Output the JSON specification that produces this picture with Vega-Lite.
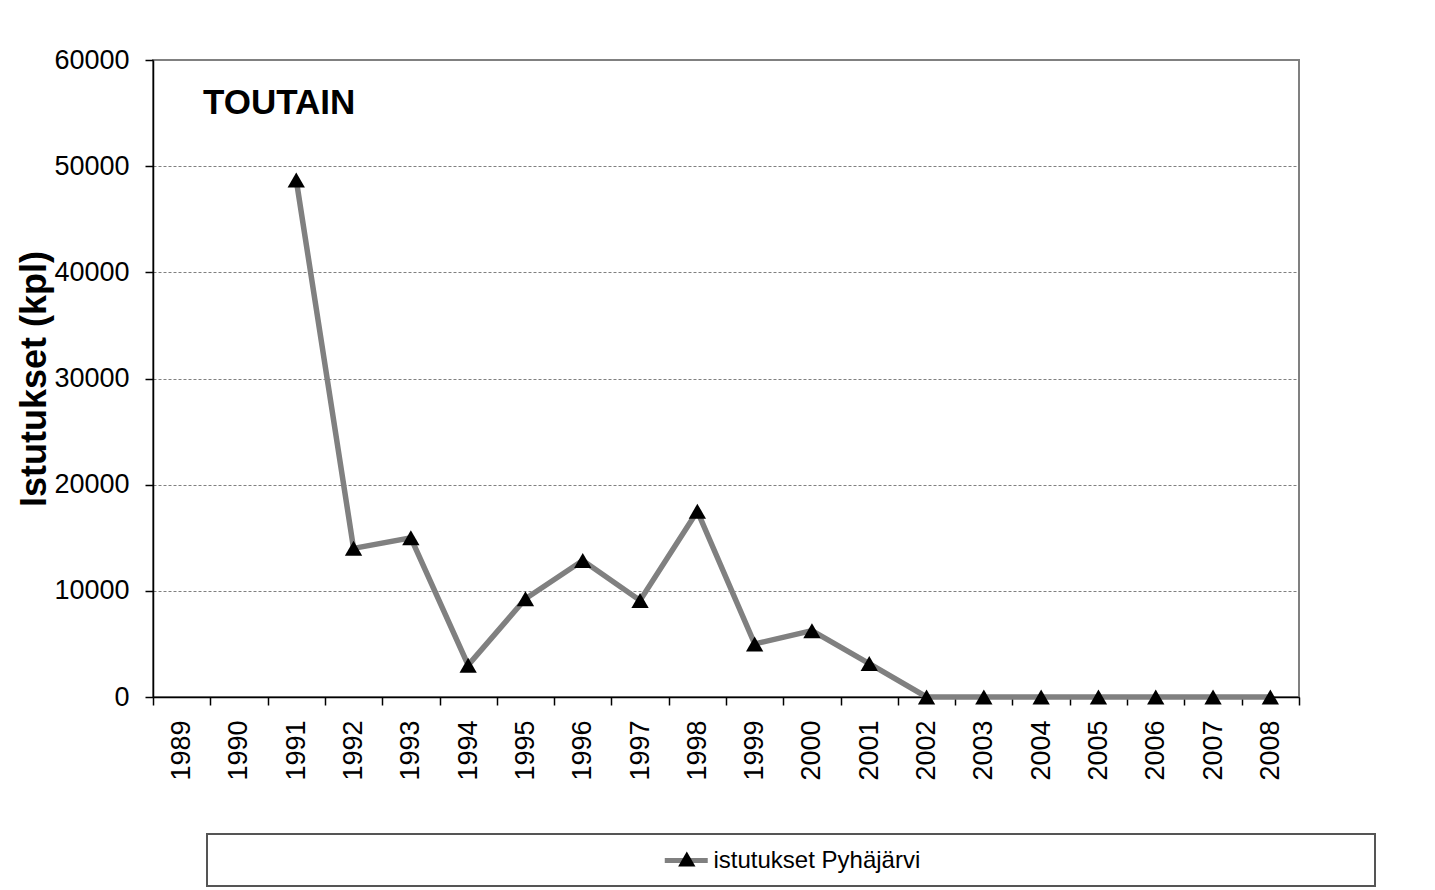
{
  "$schema": "https://vega.github.io/schema/vega-lite/v6.json",
  "width": 1146,
  "height": 637,
  "autosize": {"type": "none"},
  "padding": {"left": 153, "top": 60, "right": 136, "bottom": 193},
  "background": "white",
  "title": {
    "text": "TOUTAIN",
    "anchor": "start",
    "frame": "group",
    "offset": -42,
    "dx": 50,
    "dy": 50,
    "fontSize": 35,
    "fontWeight": "bold",
    "color": "black",
    "baseline": "middle"
  },
  "config": {
    "font": "Liberation Sans",
    "view": {"stroke": "#808080", "strokeWidth": 2}
  },
  "data": {
    "values": [
      {"year": "1989", "value": null, "series": "istutukset Pyhäjärvi"},
      {"year": "1990", "value": null, "series": "istutukset Pyhäjärvi"},
      {"year": "1991", "value": 48700, "series": "istutukset Pyhäjärvi"},
      {"year": "1992", "value": 14000, "series": "istutukset Pyhäjärvi"},
      {"year": "1993", "value": 15000, "series": "istutukset Pyhäjärvi"},
      {"year": "1994", "value": 3000, "series": "istutukset Pyhäjärvi"},
      {"year": "1995", "value": 9250, "series": "istutukset Pyhäjärvi"},
      {"year": "1996", "value": 12850, "series": "istutukset Pyhäjärvi"},
      {"year": "1997", "value": 9100, "series": "istutukset Pyhäjärvi"},
      {"year": "1998", "value": 17500, "series": "istutukset Pyhäjärvi"},
      {"year": "1999", "value": 5000, "series": "istutukset Pyhäjärvi"},
      {"year": "2000", "value": 6250, "series": "istutukset Pyhäjärvi"},
      {"year": "2001", "value": 3150, "series": "istutukset Pyhäjärvi"},
      {"year": "2002", "value": 0, "series": "istutukset Pyhäjärvi"},
      {"year": "2003", "value": 0, "series": "istutukset Pyhäjärvi"},
      {"year": "2004", "value": 0, "series": "istutukset Pyhäjärvi"},
      {"year": "2005", "value": 0, "series": "istutukset Pyhäjärvi"},
      {"year": "2006", "value": 0, "series": "istutukset Pyhäjärvi"},
      {"year": "2007", "value": 0, "series": "istutukset Pyhäjärvi"},
      {"year": "2008", "value": 0, "series": "istutukset Pyhäjärvi"}
    ]
  },
  "encoding": {
    "x": {
      "field": "year",
      "type": "ordinal",
      "scale": {
        "type": "band",
        "paddingInner": 0,
        "paddingOuter": 0,
        "domain": ["1989","1990","1991","1992","1993","1994","1995","1996","1997","1998","1999","2000","2001","2002","2003","2004","2005","2006","2007","2008"]
      },
      "axis": {
        "title": null,
        "labelAngle": -90,
        "labelFontSize": 27,
        "labelColor": "black",
        "labelPadding": 15,
        "tickSize": 8,
        "tickColor": "black",
        "tickWidth": 1.5,
        "domainColor": "black",
        "domainWidth": 1.5,
        "tickBand": "extent",
        "grid": false
      }
    },
    "y": {
      "field": "value",
      "type": "quantitative",
      "scale": {"domain": [0, 60000], "nice": false},
      "axis": {
        "title": "Istutukset (kpl)",
        "titleFontSize": 36,
        "titleFontWeight": "bold",
        "titleColor": "black",
        "titlePadding": 0,
        "labelFontSize": 27,
        "labelColor": "black",
        "labelPadding": 16,
        "tickSize": 8,
        "tickColor": "black",
        "tickWidth": 1.5,
        "domainColor": "black",
        "domainWidth": 1.5,
        "values": [0, 10000, 20000, 30000, 40000, 50000, 60000],
        "format": "d",
        "gridColor": "#808080",
        "gridDash": [3, 2],
        "gridWidth": 1
      }
    }
  },
  "layer": [
    {
      "mark": {"type": "line", "strokeWidth": 5.5},
      "encoding": {
        "stroke": {
          "datum": "istutukset Pyhäjärvi",
          "type": "nominal",
          "scale": {"range": ["#808080"]},
          "legend": {
            "orient": "none",
            "legendX": 54,
            "legendY": 774,
            "title": " ",
            "titleOrient": "right",
            "titleFontSize": 24,
            "titlePadding": 442,
            "padding": 13,
            "strokeColor": "#555555",
            "encode": {"legend": {"update": {"strokeWidth": {"value": 2}}}},
            "symbolType": "M-2,0H2",
            "symbolSize": 462,
            "symbolStrokeWidth": 5,
            "symbolOffset": 452.75,
            "labelFontSize": 24,
            "labelColor": "black",
            "labelOffset": 13.75,
            "labelLimit": 0
          }
        }
      }
    },
    {
      "mark": {"type": "point", "filled": true, "size": 300, "color": "black", "opacity": 1},
      "encoding": {
        "shape": {
          "field": "series",
          "type": "nominal",
          "scale": {"range": ["triangle-up"]},
          "legend": {
            "orient": "none",
            "legendX": 54,
            "legendY": 774,
            "title": null,
            "padding": 13,
            "zindex": 2,
            "symbolSize": 300,
            "symbolStrokeWidth": 5,
            "symbolStrokeColor": "transparent",
            "symbolFillColor": "black",
            "symbolOffset": 454.8,
            "labelFontSize": 24,
            "labelExpr": "''",
            "labelOpacity": 0,
            "labelOffset": 3,
            "labelLimit": 0
          }
        }
      }
    }
  ]
}
